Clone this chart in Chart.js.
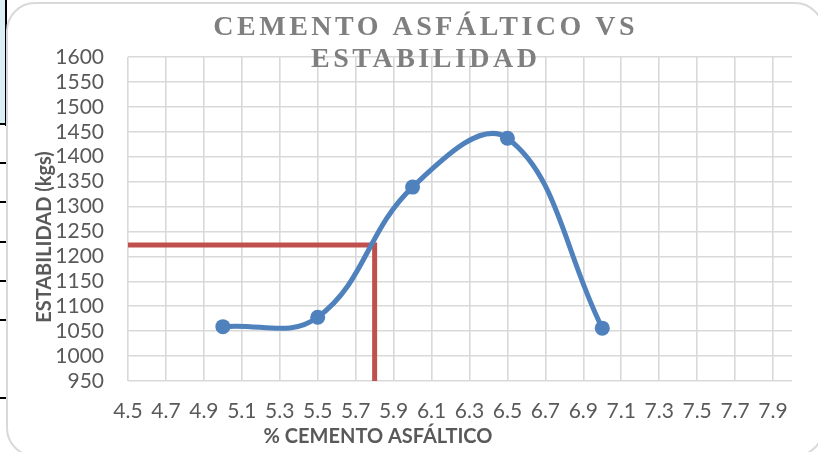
<!DOCTYPE html>
<html>
<head>
<meta charset="utf-8">
<script src="https://cdn.jsdelivr.net/npm/chart.js@4/dist/chart.umd.min.js"></script>
<style>
  html, body { margin: 0; padding: 0; background: #ffffff; }
  #wrap { width: 818px; height: 452px; }
</style>
</head>
<body>
<div id="wrap"><canvas id="c" width="818" height="452"></canvas></div>
<script>
// Ensayo Marshall: estabilidad frente al contenido de cemento asfáltico
const cementoPct = [5.0, 5.5, 6.0, 6.5, 7.0];
const estabilidad = [1059, 1078, 1339, 1437, 1056];

// Contenido óptimo y su estabilidad (líneas de lectura en rojo)
const optimoPct = 5.8;
const estabilidadOptima = 1223;

// Ejes
const xRange = [4.5, 8.0];
const xTicks = [4.5, 4.7, 4.9, 5.1, 5.3, 5.5, 5.7, 5.9, 6.1, 6.3, 6.5, 6.7, 6.9, 7.1, 7.3, 7.5, 7.7, 7.9];
const yTicks = [950, 1000, 1050, 1100, 1150, 1200, 1250, 1300, 1350, 1400, 1450, 1500, 1550, 1600];

// Textos
const titleLines = ['CEMENTO ASFÁLTICO VS', 'ESTABILIDAD'];
const xTitle = '% CEMENTO ASFÁLTICO';
const yTitle = 'ESTABILIDAD (kgs)';

const labelFont = 'Lato, "Open Sans", sans-serif';
const textGray = '#595959';

function roundRect(ctx, x, y, w, h, r) {
  ctx.beginPath();
  ctx.moveTo(x + r, y);
  ctx.lineTo(x + w - r, y);
  ctx.arcTo(x + w, y, x + w, y + r, r);
  ctx.lineTo(x + w, y + h - r);
  ctx.arcTo(x + w, y + h, x + w - r, y + h, r);
  ctx.lineTo(x + r, y + h);
  ctx.arcTo(x, y + h, x, y + h - r, r);
  ctx.lineTo(x, y + r);
  ctx.arcTo(x, y, x + r, y, r);
  ctx.closePath();
}

// Fondo: celdas de la hoja a la izquierda y marco redondeado del gráfico
const backdrop = {
  id: 'backdrop',
  beforeDraw(chart) {
    const ctx = chart.ctx;
    ctx.save();
    ctx.fillStyle = '#ffffff';
    ctx.fillRect(0, 0, chart.width, chart.height);

    ctx.fillStyle = '#dbeef4';
    ctx.fillRect(0, 0, 5, 124);
    ctx.fillStyle = '#000000';
    ctx.fillRect(5, 0, 2, 126);
    ctx.fillRect(0, 123, 7, 2);
    [163, 202, 242, 281, 320, 398].forEach(y => ctx.fillRect(0, y - 1, 6, 2));

    roundRect(ctx, 7, 3, 816, 453, 28);
    ctx.fillStyle = '#ffffff';
    ctx.fill();
    ctx.lineWidth = 2;
    ctx.strokeStyle = '#d9d9d9';
    ctx.stroke();
    ctx.restore();
  }
};

// Título y rótulos de los ejes
const captions = {
  id: 'captions',
  afterDraw(chart) {
    const ctx = chart.ctx;
    ctx.save();
    ctx.fillStyle = '#7f7f7f';
    ctx.font = 'bold 28px "Liberation Serif", "DejaVu Serif", serif';
    ctx.textBaseline = 'alphabetic';
    ctx.textAlign = 'left';
    ctx.letterSpacing = '3.5px';
    const centerX = 424;
    [[titleLines[0], 35], [titleLines[1], 67]].forEach(([t, base]) => {
      const w = ctx.measureText(t).width - 3.5;
      ctx.fillText(t, centerX - w / 2, base);
    });
    ctx.letterSpacing = '0px';

    ctx.fillStyle = textGray;
    ctx.font = 'bold 20px ' + labelFont;
    ctx.textAlign = 'center';
    ctx.textBaseline = 'middle';
    ctx.fillText(xTitle, 378, 437);

    ctx.translate(45, 237);
    ctx.rotate(-Math.PI / 2);
    ctx.fillText(yTitle, 0, 0);
    ctx.restore();
  }
};

const gridStyle = { color: '#d9d9d9', lineWidth: 1.6, drawTicks: false };

new Chart(document.getElementById('c'), {
  type: 'scatter',
  data: {
    datasets: [
      {
        label: 'Estabilidad',
        data: cementoPct.map((x, i) => ({ x: x, y: estabilidad[i] })),
        showLine: true,
        tension: 0.4,
        borderColor: '#4f81bd',
        backgroundColor: '#4f81bd',
        borderWidth: 5,
        pointRadius: 7.5,
        pointBorderWidth: 0,
        order: 0
      },
      {
        label: 'Óptimo',
        data: [
          { x: xRange[0], y: estabilidadOptima },
          { x: optimoPct, y: estabilidadOptima },
          { x: optimoPct, y: yTicks[0] }
        ],
        showLine: true,
        tension: 0,
        borderColor: '#c0504d',
        borderWidth: 5,
        pointRadius: 0,
        borderCapStyle: 'butt',
        borderJoinStyle: 'miter',
        order: 1
      }
    ]
  },
  options: {
    responsive: false,
    animation: false,
    devicePixelRatio: 1,
    layout: { padding: { top: 57, right: 26, left: 0, bottom: 0 } },
    plugins: {
      legend: { display: false },
      title: { display: false },
      tooltip: { enabled: false }
    },
    scales: {
      x: {
        type: 'linear',
        min: xRange[0],
        max: xRange[1],
        afterBuildTicks: s => { s.ticks = xTicks.map(v => ({ value: v })); },
        afterFit: s => { s.height = 71; },
        grid: gridStyle,
        border: { display: false },
        ticks: {
          autoSkip: false,
          maxRotation: 0,
          padding: 18,
          color: textGray,
          font: { family: labelFont, size: 21 },
          callback: v => v.toFixed(1)
        }
      },
      y: {
        type: 'linear',
        min: yTicks[0],
        max: yTicks[yTicks.length - 1],
        afterBuildTicks: s => { s.ticks = yTicks.map(v => ({ value: v })); },
        afterFit: s => { s.width = 128; },
        grid: gridStyle,
        border: { display: false },
        ticks: {
          autoSkip: false,
          padding: 24,
          color: textGray,
          font: { family: labelFont, size: 21 },
          callback: v => String(v)
        }
      }
    }
  },
  plugins: [backdrop, captions]
});
</script>
</body>
</html>
